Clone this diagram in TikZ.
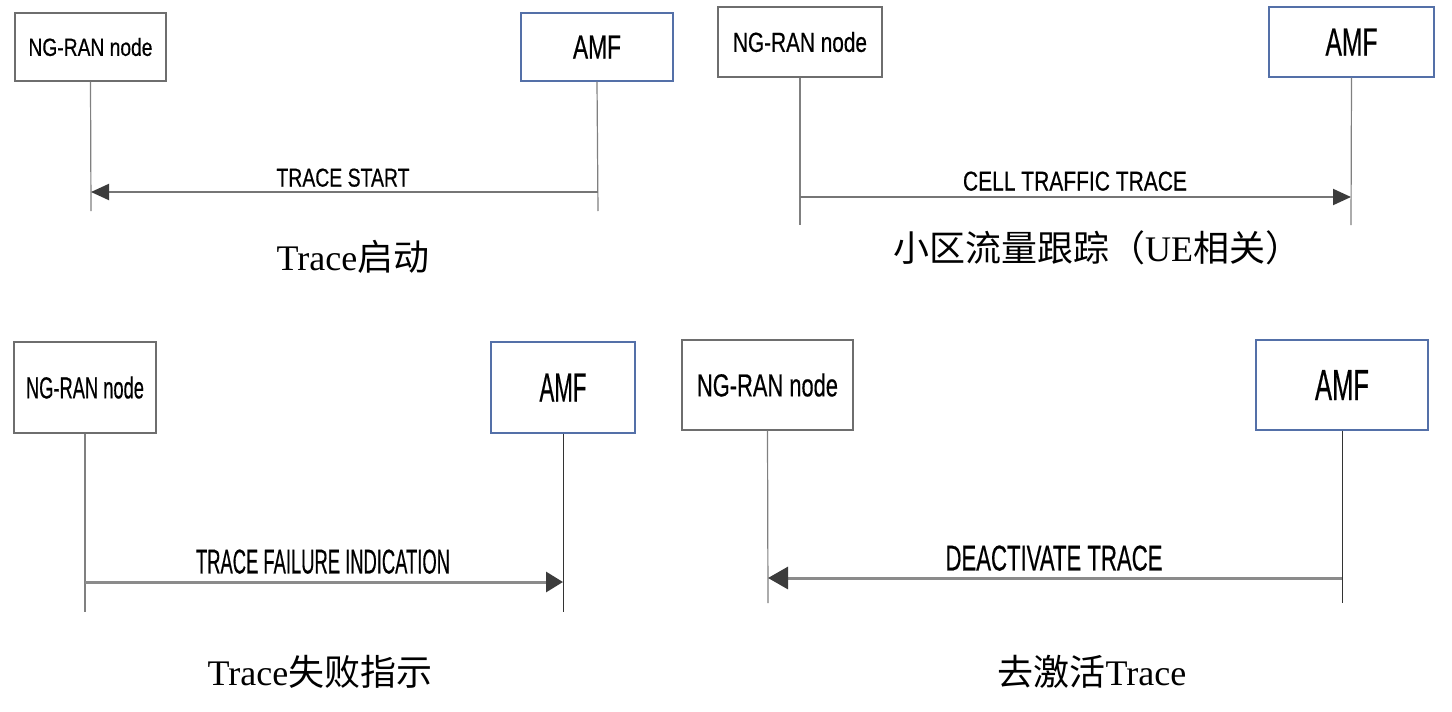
\documentclass[tikz,border=0pt]{standalone}
\usepackage{fontspec}
\setmainfont{Liberation Serif}
\setsansfont{Liberation Sans}
\newfontfamily\heavysf{Liberation Sans}[FakeBold=0.6]
\newfontfamily\cjk{Noto Sans CJK SC}
\usetikzlibrary{arrows.meta}
\definecolor{boxgray}{RGB}{110,110,110}
\definecolor{amfblue}{RGB}{84,112,168}
\definecolor{lifegray}{RGB}{128,128,128}
\definecolor{arrowgray}{RGB}{118,118,118}
\definecolor{headgray}{RGB}{60,60,60}
\newcommand{\fitsf}[3]{\resizebox{#1pt}{#2pt}{\heavysf #3}}
\tikzset{
  ngbox/.style={draw=boxgray, line width=1.3pt, fill=white, inner sep=0pt},
  amfbox/.style={draw=amfblue, line width=1.3pt, fill=white, inner sep=0pt},
  lifeline/.style={draw=lifegray, line width=1.2pt},
  amfline/.style={draw=black!80, line width=1pt},
  msg/.style={draw=arrowgray, line width=2pt, -{Triangle[length=18pt,width=16pt,color=headgray]}},
  msgthick/.style={draw=arrowgray!85, line width=3pt, -{Triangle[length=17pt,width=20pt,color=headgray]}},
  msgbig/.style={draw=arrowgray!85, line width=3pt, -{Triangle[length=20pt,width=22pt,color=headgray]}},
  msglabel/.style={anchor=south, inner sep=0pt},
  caption/.style={anchor=base, inner sep=0pt, font=\fontsize{36}{40}\selectfont}
}
\begin{document}
\begin{tikzpicture}[x=1pt,y=-1pt]
\useasboundingbox (0,0) rectangle (1452,712);
\fill[white] (0,0) rectangle (1452,712);

% ---------- Panel 1: TRACE START ----------
\node[ngbox, minimum width=151pt, minimum height=68pt] (ng1) at (90.5,47) {\fitsf{124}{18}{NG-RAN node}};
\node[amfbox, minimum width=152pt, minimum height=68pt] (amf1) at (597,47) {\fitsf{48}{23}{AMF}};
\coordinate (ng1end) at (91,211);
\coordinate (amf1end) at (598,211);
\coordinate (ng1m) at (91,192);
\coordinate (amf1m) at (598,192);
\draw[lifeline] (ng1.south) -- (ng1end);
\draw[lifeline] (amf1.south) -- (amf1end);
\draw[msg] (amf1m) -- (ng1m);
\node[msglabel] (l1) at (343,187) {\fitsf{133}{18}{TRACE START}};
\node[caption] (c1) at (353,270) {Trace{\cjk 启动}};

% ---------- Panel 2: CELL TRAFFIC TRACE ----------
\node[ngbox, minimum width=164pt, minimum height=70pt] (ng2) at (800,42) {\fitsf{134}{20}{NG-RAN node}};
\node[amfbox, minimum width=165pt, minimum height=70pt] (amf2) at (1351.5,42) {\fitsf{52}{27}{AMF}};
\coordinate (ng2end) at (800,225);
\coordinate (amf2end) at (1351,225);
\coordinate (ng2m) at (800,197);
\coordinate (amf2m) at (1351,197);
\draw[lifeline] (ng2.south) -- (ng2end);
\draw[lifeline] (amf2.south) -- (amf2end);
\draw[msg] (ng2m) -- (amf2m);
\node[msglabel] (l2) at (1075,191) {\fitsf{224}{19}{CELL TRAFFIC TRACE}};
\node[caption] (c2) at (1097,261) {{\cjk 小区流量跟踪（}UE{\cjk 相关）}};

% ---------- Panel 3: TRACE FAILURE INDICATION ----------
\node[ngbox, minimum width=142pt, minimum height=91pt] (ng3) at (85,387.5) {\fitsf{118}{22}{NG-RAN node}};
\node[amfbox, minimum width=144pt, minimum height=91pt] (amf3) at (563,387.5) {\fitsf{47}{28}{AMF}};
\coordinate (ng3end) at (85,612);
\coordinate (amf3end) at (563,612);
\coordinate (ng3m) at (85,582);
\coordinate (amf3m) at (563,582);
\draw[lifeline] (ng3.south) -- (ng3end);
\draw[amfline] (amf3.south) -- (amf3end);
\draw[msgthick] (ng3m) -- (amf3m);
\node[msglabel] (l3) at (323,574) {\fitsf{254}{24}{TRACE FAILURE INDICATION}};
\node[caption] (c3) at (320,685) {Trace{\cjk 失败指示}};

% ---------- Panel 4: DEACTIVATE TRACE ----------
\node[ngbox, minimum width=171pt, minimum height=90pt] (ng4) at (767.5,385) {\fitsf{141}{23}{NG-RAN node}};
\node[amfbox, minimum width=172pt, minimum height=90pt] (amf4) at (1342,385) {\fitsf{54}{30}{AMF}};
\coordinate (ng4end) at (768,603);
\coordinate (amf4end) at (1342,603);
\coordinate (ng4m) at (768,578);
\coordinate (amf4m) at (1342,578);
\draw[lifeline] (ng4.south) -- (ng4end);
\draw[amfline] (amf4.south) -- (amf4end);
\draw[msgbig] (amf4m) -- (ng4m);
\node[msglabel] (l4) at (1054,571) {\fitsf{217}{25}{DEACTIVATE TRACE}};
\node[caption] (c4) at (1092,685) {{\cjk 去激活}Trace};
\end{tikzpicture}
\end{document}
